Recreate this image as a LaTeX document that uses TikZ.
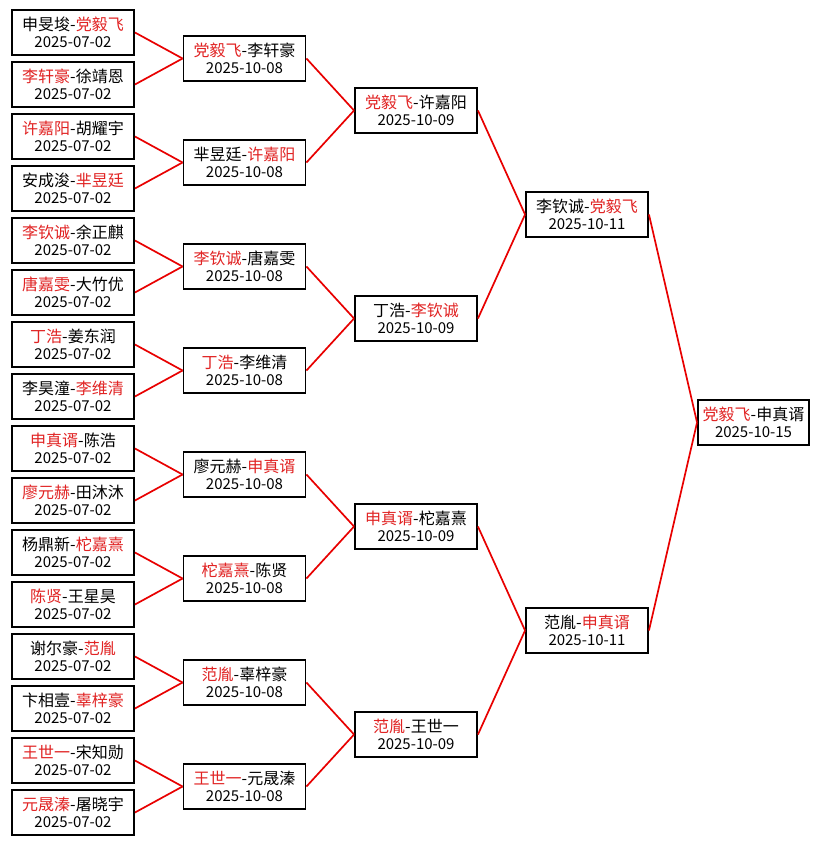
\documentclass[tikz,border=0pt]{standalone}
\usepackage{fontspec}
\setmainfont{Noto Sans CJK SC}
\definecolor{win}{RGB}{225,35,35}
\definecolor{lnred}{RGB}{232,0,0}
\newcommand{\W}[1]{\textcolor{win}{#1}}
\newcommand{\Dt}[1]{{\fontsize{15}{17.5}\selectfont #1}}
\tikzset{
  match/.style={draw=black, line width=1.9pt, fill=white, minimum height=45pt,
    inner sep=0pt, align=center, text=black, font=\fontsize{16}{17.5}\selectfont},
  wide/.style={match, minimum width=122pt},
  narrow/.style={match, minimum width=111pt},
  link/.style={draw=lnred, line width=1.7pt}
}
\begin{document}
\begin{tikzpicture}[x=1pt,y=-1pt]
\fill[white] (0,0) rectangle (831,845);
\useasboundingbox (0,0) rectangle (831,845);
% round 1
\node[wide] (a1)  at (73,32.5)  {申旻埈-\W{党毅飞}\\\Dt{2025-07-02}};
\node[wide] (a2)  at (73,84.5)  {\W{李轩豪}-徐靖恩\\\Dt{2025-07-02}};
\node[wide] (a3)  at (73,136.5) {\W{许嘉阳}-胡耀宇\\\Dt{2025-07-02}};
\node[wide] (a4)  at (73,188.5) {安成浚-\W{芈昱廷}\\\Dt{2025-07-02}};
\node[wide] (a5)  at (73,240.5) {\W{李钦诚}-余正麒\\\Dt{2025-07-02}};
\node[wide] (a6)  at (73,292.5) {\W{唐嘉雯}-大竹优\\\Dt{2025-07-02}};
\node[wide] (a7)  at (73,344.5) {\W{丁浩}-姜东润\\\Dt{2025-07-02}};
\node[wide] (a8)  at (73,396.5) {李昊潼-\W{李维清}\\\Dt{2025-07-02}};
\node[wide] (a9)  at (73,448.5) {\W{申真谞}-陈浩\\\Dt{2025-07-02}};
\node[wide] (a10) at (73,500.5) {\W{廖元赫}-田沐沐\\\Dt{2025-07-02}};
\node[wide] (a11) at (73,552.5) {杨鼎新-\W{柁嘉熹}\\\Dt{2025-07-02}};
\node[wide] (a12) at (73,604.5) {\W{陈贤}-王星昊\\\Dt{2025-07-02}};
\node[wide] (a13) at (73,656.5) {谢尔豪-\W{范胤}\\\Dt{2025-07-02}};
\node[wide] (a14) at (73,708.5) {卞相壹-\W{辜梓豪}\\\Dt{2025-07-02}};
\node[wide] (a15) at (73,760.5) {\W{王世一}-宋知勋\\\Dt{2025-07-02}};
\node[wide] (a16) at (73,812.5) {\W{元晟溱}-屠晓宇\\\Dt{2025-07-02}};
% round 2
\node[wide] (b1) at (244.5,58.5)  {\W{党毅飞}-李轩豪\\\Dt{2025-10-08}};
\node[wide] (b2) at (244.5,162.5) {芈昱廷-\W{许嘉阳}\\\Dt{2025-10-08}};
\node[wide] (b3) at (244.5,266.5) {\W{李钦诚}-唐嘉雯\\\Dt{2025-10-08}};
\node[wide] (b4) at (244.5,370.5) {\W{丁浩}-李维清\\\Dt{2025-10-08}};
\node[wide] (b5) at (244.5,474.5) {廖元赫-\W{申真谞}\\\Dt{2025-10-08}};
\node[wide] (b6) at (244.5,578.5) {\W{柁嘉熹}-陈贤\\\Dt{2025-10-08}};
\node[wide] (b7) at (244.5,682.5) {\W{范胤}-辜梓豪\\\Dt{2025-10-08}};
\node[wide] (b8) at (244.5,786.5) {\W{王世一}-元晟溱\\\Dt{2025-10-08}};
% round 3
\node[wide] (c1) at (416,110.5) {\W{党毅飞}-许嘉阳\\\Dt{2025-10-09}};
\node[wide] (c2) at (416,318.5) {丁浩-\W{李钦诚}\\\Dt{2025-10-09}};
\node[wide] (c3) at (416,526.5) {\W{申真谞}-柁嘉熹\\\Dt{2025-10-09}};
\node[wide] (c4) at (416,734.5) {\W{范胤}-王世一\\\Dt{2025-10-09}};
% round 4
\node[wide] (d1) at (587,214.5) {李钦诚-\W{党毅飞}\\\Dt{2025-10-11}};
\node[wide] (d2) at (587,630.5) {范胤-\W{申真谞}\\\Dt{2025-10-11}};
% final
\node[narrow] (e) at (753.5,422.5) {\W{党毅飞}-申真谞\\\Dt{2025-10-15}};
% connectors
\foreach \j in {1,...,8} {
  \pgfmathtruncatemacro\p{2*\j-1}
  \pgfmathtruncatemacro\q{2*\j}
  \draw[link] (a\p.east) -- (b\j.west);
  \draw[link] (a\q.east) -- (b\j.west);
}
\foreach \j in {1,...,4} {
  \pgfmathtruncatemacro\p{2*\j-1}
  \pgfmathtruncatemacro\q{2*\j}
  \draw[link] (b\p.east) -- (c\j.west);
  \draw[link] (b\q.east) -- (c\j.west);
}
\draw[link] (c1.east) -- (d1.west);
\draw[link] (c2.east) -- (d1.west);
\draw[link] (c3.east) -- (d2.west);
\draw[link] (c4.east) -- (d2.west);
\draw[link] (d1.east) -- (e.west);
\draw[link] (d2.east) -- (e.west);
\end{tikzpicture}
\end{document}
